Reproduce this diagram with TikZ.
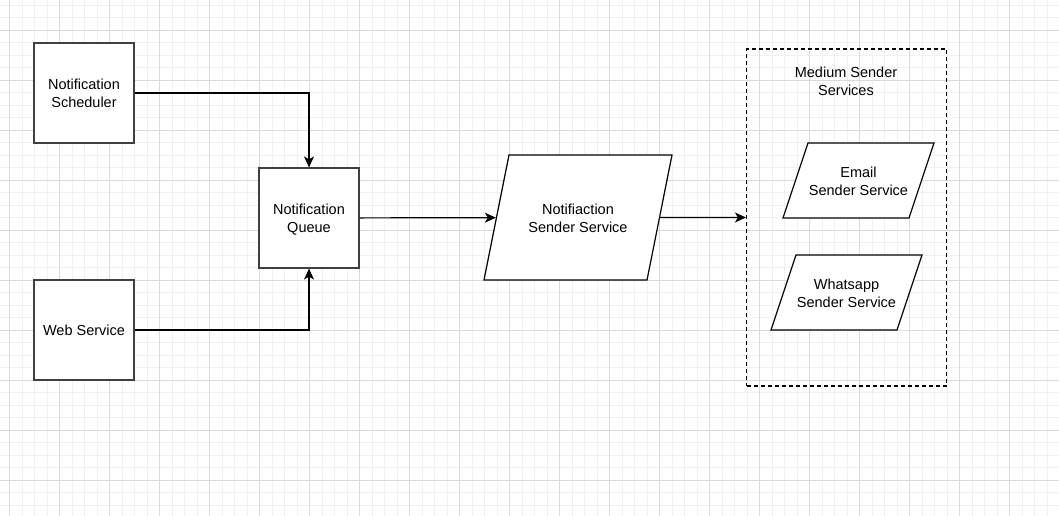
\documentclass[tikz,border=0pt]{standalone}
\usepackage{fontspec}
\setmainfont{Liberation Sans}
\usetikzlibrary{shapes.geometric,arrows.meta,positioning}

\definecolor{minorline}{HTML}{F1F1F1}
\definecolor{majorline}{HTML}{DADADA}
\definecolor{boxline}{HTML}{404040}

\begin{document}
\begin{tikzpicture}[x=1pt, y=-1pt,
		every node/.style={font=\fontsize{14.5}{18}\selectfont, align=center},
		twolines/.style={text height=32pt, text depth=2.4pt},
		box/.style={draw=boxline, line width=1.2pt, fill=white, minimum width=100pt, minimum height=100pt, inner sep=0pt},
		slanted/.style={trapezium, draw, line width=1.2pt, fill=white, trapezium stretches body, inner sep=0pt},
		tall/.style={text height=77.3pt, text depth=47.7pt},
		short/.style={text height=52.3pt, text depth=22.7pt},
		group/.style={draw, line width=1.1pt, dash pattern=on 4pt off 3pt, minimum width=200pt, minimum height=337pt, inner sep=0pt},
		link/.style={-{Stealth[length=11pt, width=10pt, inset=3pt]}, line width=1.2pt},
	]
	\useasboundingbox[fill=white] (0,0) rectangle (1059,516);
	% grid
	\foreach \i in {0,...,85} \draw[minorline, line width=0.8pt] (-3+12.5*\i,0) -- (-3+12.5*\i,516);
	\foreach \i in {0,...,41} \draw[minorline, line width=0.8pt] (0,5+12.5*\i) -- (1059,5+12.5*\i);
	\foreach \i in {0,...,21} \draw[majorline, line width=0.8pt] (9.5+50*\i,0) -- (9.5+50*\i,516);
	\foreach \i in {0,...,9} \draw[majorline, line width=0.8pt] (0,30+50*\i) -- (1059,30+50*\i);

	\node[box, twolines] (scheduler) at (84,93) {Notification\\Scheduler};
	\node[box] (web) at (84,330) {Web Service};
	\node[box, twolines] (queue) at (309,218) {Notification\\Queue};
	\node[slanted, tall, trapezium left angle=78.69, trapezium right angle=101.31, minimum width=188pt] (sender) at (578,217.5) {Notifiaction\\Sender Service};

	\node[group] (medium) at (846.5,217.5) {};
	\node[twolines] (mediumtitle) at (846,81) {Medium Sender\\Services};
	\node[slanted, short, trapezium left angle=71.57, trapezium right angle=108.43, minimum width=151pt] (email) at (858.5,180.5) {Email\\Sender Service};
	\node[slanted, short, trapezium left angle=71.57, trapezium right angle=108.43, minimum width=151pt] (whatsapp) at (846.5,292.5) {Whatsapp\\Sender Service};

	\draw[link] (scheduler.east) -| (queue.north);
	\draw[link] (web.east) -| (queue.south);
	\draw[link] (queue) -- (sender);
	\draw[link] (sender) -- (medium);
\end{tikzpicture}
\end{document}
